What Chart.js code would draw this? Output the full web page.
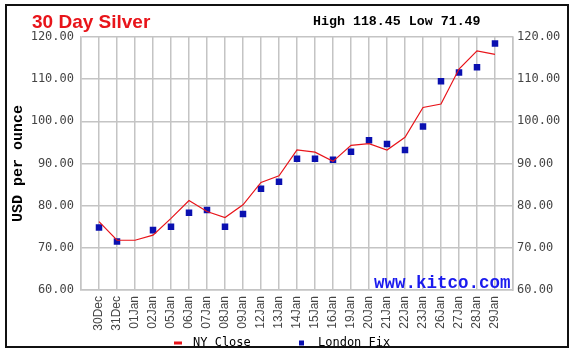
<!DOCTYPE html>
<html>
<head>
<meta charset="utf-8">
<script src="https://cdn.jsdelivr.net/npm/chart.js@4.4.1/dist/chart.umd.min.js"></script>
<style>
html,body{margin:0;padding:0;background:#fff;}
#wrap{position:relative;width:578px;height:356px;}
canvas{display:block;}
</style>
</head>
<body>
<div id="wrap"><canvas id="c" width="578" height="356"></canvas></div>
<script>
// ---- data ----
const dates = ['30Dec','31Dec','01Jan','02Jan','05Jan','06Jan','07Jan','08Jan','09Jan','12Jan','13Jan','14Jan','15Jan','16Jan','19Jan','20Jan','21Jan','22Jan','23Jan','26Jan','27Jan','28Jan','29Jan'];
const nyClose = [76.2, 71.8, 71.8, 73.0, 77.0, 81.2, 78.6, 77.2, 80.2, 85.5, 87.1, 93.2, 92.7, 90.5, 94.3, 94.7, 93.2, 96.2, 103.3, 104.1, 112.4, 116.7, 115.9];
const londonFix = [74.8, 71.49, null, 74.2, 75.0, 78.3, 79.0, 75.0, 78.0, 84.0, 85.7, 91.1, 91.1, 90.9, 92.8, 95.5, 94.6, 93.2, 98.8, 109.5, 111.6, 112.8, 118.45];
const yTicks = [60, 70, 80, 90, 100, 110, 120];
const titleText = '30 Day Silver';
const highLowText = 'High 118.45 Low 71.49';
const watermark = 'www.kitco.com';
const yTitle = 'USD per ounce';

const RED = '#e8141a';
const BLUE = '#0a10b0';
const GRID = '#c4c4c4';

const axisLabels = [''].concat(dates, ['']);

const textPlugin = {
  id: 'texts',
  afterDatasetsDraw(chart) {
    const ctx = chart.ctx;
    ctx.save();
    ctx.textBaseline = 'alphabetic';
    ctx.textAlign = 'left';
    ctx.fillStyle = '#1a1aee';
    ctx.font = 'bold 17.5px "Liberation Mono"';
    ctx.fillText(watermark, 374, 288);
    ctx.restore();
  },
  afterDraw(chart) {
    const ctx = chart.ctx;
    ctx.save();
    // frame
    ctx.strokeStyle = '#111';
    ctx.lineWidth = 2;
    ctx.strokeRect(6, 5, 562, 342);
    // title
    ctx.textBaseline = 'alphabetic';
    ctx.textAlign = 'left';
    ctx.fillStyle = RED;
    ctx.font = 'bold 19px "Liberation Sans"';
    ctx.fillText(titleText, 32, 28);
    ctx.fillStyle = '#000';
    ctx.font = 'bold 13.3px "Liberation Mono"';
    ctx.fillText(highLowText, 313, 25);
    // legend
    const ds = chart.data.datasets;
    ctx.font = '12px "DejaVu Sans Mono"';
    ctx.textBaseline = 'middle';
    const ly = 343;
    ctx.fillStyle = ds[0].borderColor;
    ctx.fillRect(174, ly - 1.5, 8, 3);
    ctx.fillStyle = '#000';
    ctx.fillText(ds[0].label, 193, ly);
    ctx.fillStyle = ds[1].backgroundColor;
    ctx.fillRect(299, ly - 2.5, 5, 5);
    ctx.fillStyle = '#000';
    ctx.fillText(ds[1].label, 318, ly);
    ctx.restore();
  }
};

const tickFont = {family: '"DejaVu Sans Mono"', size: 12};

new Chart(document.getElementById('c'), {
  type: 'line',
  data: {
    labels: axisLabels,
    datasets: [
      {
        label: 'NY Close',
        data: nyClose.map((v, i) => ({x: dates[i], y: v})),
        borderColor: RED,
        backgroundColor: RED,
        borderWidth: 1.2,
        pointRadius: 0,
        tension: 0,
        yAxisID: 'y'
      },
      {
        label: 'London Fix',
        data: londonFix.map((v, i) => ({x: dates[i], y: v})).filter(p => p.y !== null),
        borderColor: BLUE,
        backgroundColor: BLUE,
        showLine: false,
        pointStyle: 'rect',
        pointRadius: 4.6,
        pointBorderWidth: 0,
        yAxisID: 'y'
      }
    ]
  },
  options: {
    responsive: false,
    animation: false,
    devicePixelRatio: 1,
    layout: {padding: {top: 37, left: 0, right: 0, bottom: 0}},
    plugins: {legend: {display: false}, tooltip: {enabled: false}, title: {display: false}},
    scales: {
      x: {
        type: 'category',
        offset: false,
        grid: {color: GRID, lineWidth: 1.5, drawTicks: false},
        border: {color: GRID, width: 1.5},
        ticks: {autoSkip: false, maxRotation: 90, minRotation: 90, padding: 6,
                font: {family: '"Liberation Sans"', size: 12}, color: '#444'},
        afterFit(s) { s.height = 66; }
      },
      y: {
        position: 'left',
        min: 60, max: 120,
        afterBuildTicks(s) { s.ticks = yTicks.map(v => ({value: v})); },
        grid: {color: GRID, lineWidth: 1.5, drawTicks: false},
        border: {color: GRID, width: 1.5},
        ticks: {padding: 7, font: tickFont, color: '#444', callback: v => Number(v).toFixed(2)},
        title: {display: true, text: yTitle, color: '#000', font: {family: '"Liberation Mono"', size: 15, weight: 'bold'}, padding: {top: 9, bottom: 0}},
        afterFit(s) { s.width = 81; }
      },
      y2: {
        position: 'right',
        min: 60, max: 120,
        afterBuildTicks(s) { s.ticks = yTicks.map(v => ({value: v})); },
        grid: {display: false, drawTicks: false},
        border: {color: GRID, width: 1.5},
        ticks: {padding: 4, font: tickFont, color: '#444', callback: v => Number(v).toFixed(2)},
        afterFit(s) { s.width = 65; }
      }
    }
  },
  plugins: [textPlugin]
});
</script>
</body>
</html>
